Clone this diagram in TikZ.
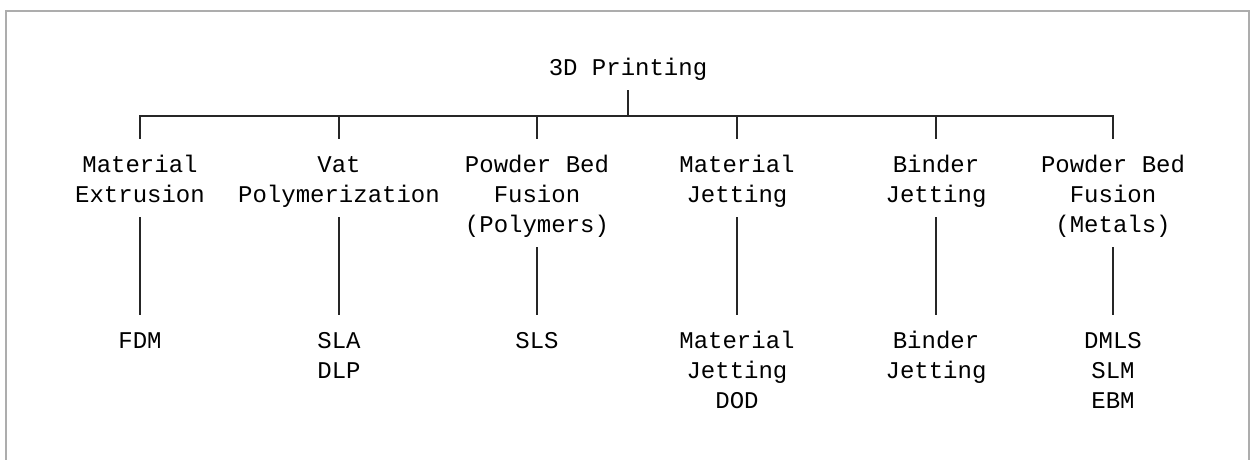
\documentclass[tikz,border=0pt]{standalone}
\usepackage{fontspec}
\newfontfamily\lblfont{Liberation Mono}
\newcommand\lbltop{\rule{0pt}{33pt}}
\newcommand\lblbot{\rule[-15pt]{0pt}{15pt}}
\usepackage{tikz}

\begin{document}
\begin{tikzpicture}[x=1pt,y=-1pt,
  lbl/.style={font=\lblfont\fontsize{24}{30}\selectfont, text=black, align=center,
    inner sep=0pt, anchor=north, execute at end node=\lblbot},
  conn/.style={draw=black!85, line width=1.7pt},
  frame/.style={draw=black!32, line width=2pt}]
  \useasboundingbox (0,0) rectangle (1256,459);
  \draw[frame] (6,470) -- (6,11) -- (1249,11) -- (1249,470);
  \node[lbl] (root) at (628,42) {\lbltop 3D Printing};
  \coordinate (bar) at (628,116);
  \node[lbl] (mex) at (140,139) {\lbltop Material\\Extrusion};
  \node[lbl] (vat) at (339,139) {\lbltop Vat\\Polymerization};
  \node[lbl] (pbp) at (537,139) {\lbltop Powder Bed\\Fusion\\(Polymers)};
  \node[lbl] (mjt) at (737,139) {\lbltop Material\\Jetting};
  \node[lbl] (bjt) at (936,139) {\lbltop Binder\\Jetting};
  \node[lbl] (pbm) at (1113,139) {\lbltop Powder Bed\\Fusion\\(Metals)};
  \node[lbl] (fdm) at (140,315) {\lbltop FDM};
  \node[lbl] (sla) at (339,315) {\lbltop SLA\\DLP};
  \node[lbl] (sls) at (537,315) {\lbltop SLS};
  \node[lbl] (mjd) at (737,315) {\lbltop Material\\Jetting\\DOD};
  \node[lbl] (bjl) at (936,315) {\lbltop Binder\\Jetting};
  \node[lbl] (dml) at (1113,315) {\lbltop DMLS\\SLM\\EBM};
  \draw[conn] (root.south) -- (bar);
  \foreach \c in {mex,vat,pbp,mjt,bjt,pbm}
    \draw[conn] (bar) -| (\c.north);
  \draw[conn] (mex.south) -- (fdm.north);
  \draw[conn] (vat.south) -- (sla.north);
  \draw[conn] (pbp.south) -- (sls.north);
  \draw[conn] (mjt.south) -- (mjd.north);
  \draw[conn] (bjt.south) -- (bjl.north);
  \draw[conn] (pbm.south) -- (dml.north);
\end{tikzpicture}
\end{document}
